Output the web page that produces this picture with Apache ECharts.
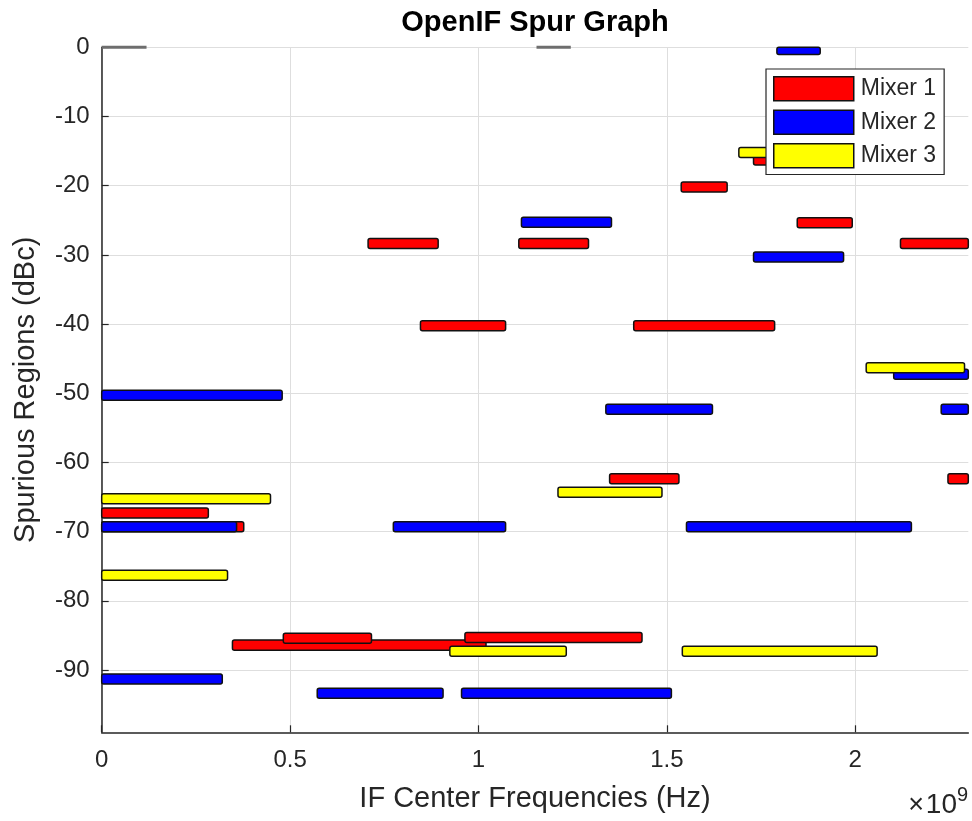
<!DOCTYPE html>
<html>
<head>
<meta charset="utf-8">
<script src="https://cdn.jsdelivr.net/npm/echarts@6/dist/echarts.min.js"></script>
<style>
  html, body { margin: 0; padding: 0; background: #ffffff; }
  #chart { width: 972px; height: 821px; }
</style>
</head>
<body>
<div id="chart"></div>
<script>
// Axis ticks
const xTicks = [0, 0.5e9, 1.0e9, 1.5e9, 2.0e9];
const yTicks = [0, -10, -20, -30, -40, -50, -60, -70, -80, -90];

// Spur regions: [start frequency (Hz), end frequency (Hz), level (dBc)]
const mixer1 = [
  [0.347e9, 1.020e9, -86.4],
  [0.482e9, 0.716e9, -85.4],
  [0.964e9, 1.434e9, -85.3],
  [0.707e9, 0.893e9, -28.35],
  [1.107e9, 1.292e9, -28.35],
  [2.120e9, 2.300e9, -28.35],
  [1.538e9, 1.660e9, -20.2],
  [1.730e9, 1.820e9, -16.3],
  [1.846e9, 1.992e9, -25.35],
  [0.846e9, 1.072e9, -40.25],
  [1.412e9, 1.786e9, -40.25],
  [1.348e9, 1.532e9, -62.35],
  [2.246e9, 2.300e9, -62.35],
  [0.000e9, 0.283e9, -67.3],
  [0.000e9, 0.377e9, -69.3]
];
const mixer2 = [
  [1.792e9, 1.907e9, -0.3],
  [1.114e9, 1.353e9, -25.3],
  [1.730e9, 1.969e9, -30.3],
  [2.102e9, 2.300e9, -47.25],
  [0.000e9, 0.479e9, -50.3],
  [1.338e9, 1.621e9, -52.3],
  [2.228e9, 2.300e9, -52.3],
  [0.000e9, 0.358e9, -69.3],
  [0.774e9, 1.072e9, -69.3],
  [1.552e9, 2.149e9, -69.3],
  [0.000e9, 0.320e9, -91.3],
  [0.572e9, 0.906e9, -93.35],
  [0.955e9, 1.512e9, -93.35]
];
const mixer3 = [
  [1.691e9, 1.800e9, -15.2],
  [2.029e9, 2.290e9, -46.3],
  [1.211e9, 1.487e9, -64.3],
  [0.000e9, 0.448e9, -65.25],
  [0.000e9, 0.334e9, -76.3],
  [0.924e9, 1.233e9, -87.3],
  [1.541e9, 2.058e9, -87.3]
];
// Carrier-level markers at 0 dBc
const carriers = [
  [0.000e9, 0.119e9, 0],
  [1.154e9, 1.245e9, 0]
];

const FONT = '"Liberation Sans", Arial, Helvetica, sans-serif';
const AXIS_COLOR = '#262626';
const BAR_HEIGHT = 1.45; // dB

function barRenderer(fill) {
  return function (params, api) {
    const level = api.value(2);
    const p0 = api.coord([api.value(0), level]);
    const p1 = api.coord([api.value(1), level]);
    const h = api.size([0, BAR_HEIGHT])[1];
    const cs = params.coordSys;
    const shape = echarts.graphic.clipRectByRect(
      { x: p0[0], y: p0[1] - h / 2, width: p1[0] - p0[0], height: h },
      { x: cs.x - 2, y: cs.y, width: cs.width + 3, height: cs.height }
    );
    if (!shape) return;
    shape.r = 2;
    return {
      type: 'rect',
      shape: shape,
      style: { fill: fill, stroke: '#111111', lineWidth: 1.5 }
    };
  };
}

function carrierRenderer(params, api) {
  const p0 = api.coord([api.value(0), api.value(2)]);
  const p1 = api.coord([api.value(1), api.value(2)]);
  return {
    type: 'line',
    shape: { x1: p0[0], y1: p0[1], x2: p1[0], y2: p1[1] },
    style: { stroke: '#6e6e6e', lineWidth: 3 }
  };
}

function barSeries(name, data, fill) {
  return {
    name: name,
    type: 'custom',
    data: data,
    encode: { x: [0, 1], y: 2 },
    itemStyle: { color: fill, borderColor: '#111111', borderWidth: 1.5 },
    renderItem: barRenderer(fill),
    silent: true
  };
}

const chart = echarts.init(document.getElementById('chart'), null, { renderer: 'canvas' });

chart.setOption({
  animation: false,
  backgroundColor: '#ffffff',
  textStyle: { fontFamily: FONT },
  grid: { left: 101.7, top: 47.3, right: 3.7, bottom: 88.7, containLabel: false },
  xAxis: {
    type: 'value',
    min: 0,
    max: 2.3e9,
    name: 'IF Center Frequencies (Hz)',
    nameLocation: 'middle',
    nameGap: 52,
    nameTextStyle: { fontSize: 29, color: AXIS_COLOR, fontFamily: FONT },
    axisLine: { show: true, onZero: false, lineStyle: { color: AXIS_COLOR, width: 1.5 } },
    axisTick: { show: true, inside: true, length: 7, customValues: xTicks, lineStyle: { color: AXIS_COLOR, width: 1.2 } },
    axisLabel: {
      customValues: xTicks,
      fontSize: 24, color: AXIS_COLOR, fontFamily: FONT, margin: 16,
      formatter: v => String(+(v / 1e9).toFixed(1))
    },
    splitLine: { show: true, lineStyle: { color: '#dedede', width: 1 } }
  },
  yAxis: {
    type: 'value',
    min: -99,
    max: 0,
    name: 'Spurious Regions (dBc)',
    nameLocation: 'middle',
    nameGap: 61,
    nameRotate: 90,
    nameTextStyle: { fontSize: 29, color: AXIS_COLOR, fontFamily: FONT },
    axisLine: { show: true, onZero: false, lineStyle: { color: AXIS_COLOR, width: 1.5 } },
    axisTick: { show: true, inside: true, length: 7, customValues: yTicks, lineStyle: { color: AXIS_COLOR, width: 1.2 } },
    axisLabel: {
      customValues: yTicks,
      fontSize: 24, color: AXIS_COLOR, fontFamily: FONT, margin: 12,
      padding: [7, 0, 0, 0]
    },
    splitLine: { show: true, lineStyle: { color: '#dedede', width: 1 } }
  },
  legend: {
    data: ['Mixer 1', 'Mixer 2', 'Mixer 3'],
    orient: 'vertical',
    left: 766,
    top: 69,
    icon: 'rect',
    itemWidth: 80,
    itemHeight: 24,
    itemGap: 8,
    padding: [7, 8, 6, 7],
    backgroundColor: '#ffffff',
    borderColor: AXIS_COLOR,
    borderWidth: 1.2,
    itemStyle: { borderColor: '#111111', borderWidth: 1.5 },
    textStyle: { fontSize: 23, color: AXIS_COLOR, fontFamily: FONT, padding: [0, 0, 0, 2] },
    selectedMode: false
  },
  graphic: [
    {
      type: 'text', x: 535, y: 23,
      style: {
        text: 'OpenIF Spur Graph', fill: '#000000',
        font: 'bold 29px ' + FONT, textAlign: 'center', textVerticalAlign: 'middle', verticalAlign: 'middle'
      }
    },
    {
      type: 'text', x: 924, y: 806,
      style: {
        text: '\u00d7', fill: AXIS_COLOR,
        font: '27px ' + FONT, textAlign: 'right', textVerticalAlign: 'middle', verticalAlign: 'middle'
      }
    },
    {
      type: 'text', x: 957, y: 805,
      style: {
        text: '10', fill: AXIS_COLOR,
        font: '28px ' + FONT, textAlign: 'right', textVerticalAlign: 'middle', verticalAlign: 'middle'
      }
    },
    {
      type: 'text', x: 957, y: 795,
      style: {
        text: '9', fill: AXIS_COLOR,
        font: '20px ' + FONT, textAlign: 'left', textVerticalAlign: 'middle', verticalAlign: 'middle'
      }
    }
  ],
  series: [
    {
      name: 'carriers',
      type: 'custom',
      data: carriers,
      encode: { x: [0, 1], y: 2 },
      renderItem: carrierRenderer,
      silent: true
    },
    barSeries('Mixer 1', mixer1, '#ff0000'),
    barSeries('Mixer 2', mixer2, '#0000ff'),
    barSeries('Mixer 3', mixer3, '#ffff00')
  ]
});
</script>
</body>
</html>
